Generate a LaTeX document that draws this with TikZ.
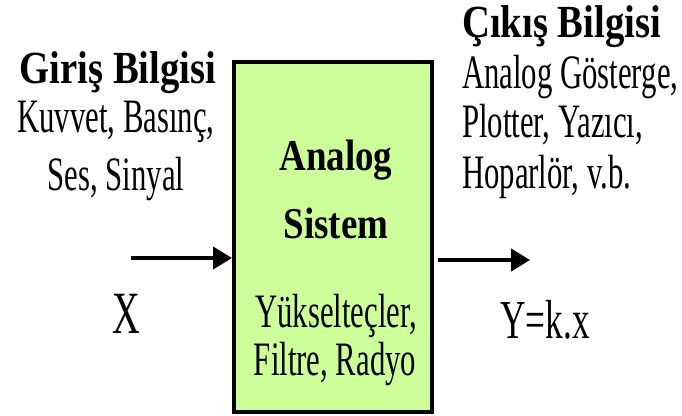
\documentclass[tikz,border=0pt]{standalone}
\usepackage{fontspec}
\setmainfont{Liberation Serif}
\newfontfamily\bodyfont[FakeStretch=0.64]{Liberation Serif}
\newfontfamily\headfont[FakeStretch=0.84]{Liberation Serif}
\usepackage{tikz}
\usetikzlibrary{arrows.meta}
\definecolor{sysgreen}{HTML}{CCFF99}
\tikzstyle{flow}=[line width=4pt, -{Triangle[length=19pt,width=22pt]}]
\tikzstyle{sysbox}=[draw, line width=4pt, fill=sysgreen, minimum width=198pt, minimum height=350pt, inner sep=0pt]
\tikzstyle{head}=[inner sep=0pt, font=\headfont\bfseries\fontsize{46}{46}\selectfont]
\tikzstyle{body}=[inner sep=0pt, font=\bodyfont\fontsize{48}{48}\selectfont]
\tikzstyle{boxhead}=[inner sep=0pt, font=\headfont\bfseries\fontsize{44}{44}\selectfont]

\begin{document}
\begin{tikzpicture}[x=1pt, y=-1pt]
      \useasboundingbox (0,0) rectangle (682,415);
      \node(sys) [sysbox] at (333, 237){};
      % box texts
      \node(name1) [boxhead, anchor=base] at (336, 170){Analog};
      \node(name2) [boxhead, anchor=base] at (336, 238){Sistem};
      \node(ex1) [body, anchor=base] at (336, 327){Yükselteçler,};
      \node(ex2) [body, anchor=base] at (335, 375){Filtre, Radyo};
      % input side
      \node(inhead) [head, anchor=base] at (118, 83){Giriş Bilgisi};
      \node(in1) [body, anchor=base] at (116, 132){Kuvvet, Basınç,};
      \node(in2) [body, anchor=base] at (116, 190){Ses, Sinyal};
      \node(x) [body, font=\bodyfont\fontsize{60}{60}\selectfont, anchor=base] at (126, 333){X};
      % output side
      \node(outhead) [head, anchor=base west] at (462, 37){Çıkış Bilgisi};
      \node(out1) [body, anchor=base west] at (462, 88){Analog Gösterge,};
      \node(out2) [body, anchor=base west] at (462, 137){Plotter, Yazıcı,};
      \node(out3) [body, anchor=base west] at (462, 188){Hoparlör, v.b.};
      \node(y) [body, font=\bodyfont\fontsize{55}{55}\selectfont, anchor=base] at (545, 338){Y=k.x};
      \coordinate(xin) at (131, 258);
      \coordinate(yout) at (530, 260);
      \draw[flow] (xin) to (xin -| sys.west);
      \draw[flow] ([xshift=4pt]yout -| sys.east) to (yout);
    \end{tikzpicture}
\end{document}
